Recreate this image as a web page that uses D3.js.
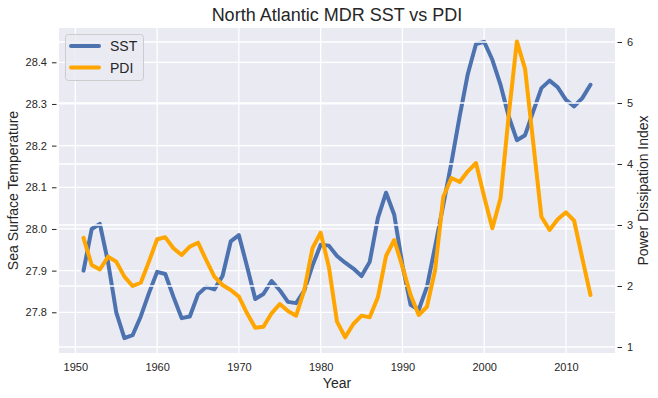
<!DOCTYPE html>
<html>
<head>
<meta charset="utf-8">
<script src="https://cdn.jsdelivr.net/npm/d3@7"></script>
<style>
  html, body { margin: 0; padding: 0; background: #ffffff; }
  svg { display: block; font-family: "Liberation Sans", Arial, sans-serif; }
</style>
</head>
<body>
<svg id="chart" width="658" height="398"></svg>
<script>
const years = d3.range(1951, 2014);
const sst = [
  27.900, 28.000, 28.012, 27.920, 27.800, 27.738, 27.745, 27.790, 27.846, 27.897,
  27.892, 27.837, 27.786, 27.790, 27.843, 27.861, 27.855, 27.887, 27.970, 27.985,
  27.910, 27.832, 27.844, 27.875, 27.853, 27.825, 27.822, 27.852, 27.912, 27.962,
  27.960, 27.935, 27.919, 27.905, 27.887, 27.921, 28.026, 28.087, 28.034, 27.914,
  27.818, 27.806, 27.861, 27.958, 28.058, 28.160, 28.270, 28.372, 28.444, 28.449,
  28.406, 28.346, 28.270, 28.213, 28.225, 28.282, 28.338, 28.356, 28.340, 28.310,
  28.294, 28.314, 28.346
];
const pdi = [
  2.790, 2.344, 2.270, 2.480, 2.400, 2.153, 2.000, 2.054, 2.400, 2.766,
  2.798, 2.618, 2.508, 2.645, 2.710, 2.426, 2.153, 2.016, 1.934, 1.825,
  1.552, 1.317, 1.333, 1.552, 1.705, 1.590, 1.514, 1.934, 2.618, 2.874,
  2.317, 1.415, 1.159, 1.377, 1.514, 1.486, 1.814, 2.492, 2.754, 2.317,
  1.852, 1.525, 1.660, 2.262, 3.464, 3.770, 3.705, 3.880, 4.016, 3.464,
  2.946, 3.437, 4.800, 6.010, 5.560, 4.350, 3.136, 2.918, 3.093, 3.208,
  3.070, 2.454, 1.852
];
const xTicks = [1950, 1960, 1970, 1980, 1990, 2000, 2010];
const sstTicks = [27.8, 27.9, 28.0, 28.1, 28.2, 28.3, 28.4];
const pdiTicks = [1, 2, 3, 4, 5, 6];

const title = "North Atlantic MDR SST vs PDI";
const xLabel = "Year";
const yLabelLeft = "Sea Surface Temperature";
const yLabelRight = "Power Dissipation Index";
const seriesNames = ["SST", "PDI"];
const colors = ["#4c72b0", "#ffa500"];

const L = 59, R = 615, T = 28, B = 353;
const textColor = "#262626";

const svg = d3.select("#chart");
const x = d3.scaleLinear().domain([1948, 2016]).range([L, R]);
const yL = d3.scaleLinear().domain([27.7023, 28.4823]).range([B, T]);
const yR = d3.scaleLinear().domain([0.9016, 6.2295]).range([B, T]);

// background
svg.append("rect").attr("x", L).attr("y", T).attr("width", R - L).attr("height", B - T).attr("fill", "#eaeaf2");

const clip = svg.append("defs").append("clipPath").attr("id", "plotclip");
clip.append("rect").attr("x", L).attr("y", T).attr("width", R - L).attr("height", B - T);

// grids for axis 1
const g1 = svg.append("g");
g1.selectAll(".vg").data(xTicks).enter().append("line")
  .attr("x1", d => x(d)).attr("x2", d => x(d)).attr("y1", T).attr("y2", B)
  .attr("stroke", "#ffffff").attr("stroke-width", 1.3);
g1.selectAll(".hg").data(sstTicks).enter().append("line")
  .attr("x1", L).attr("x2", R).attr("y1", d => yL(d)).attr("y2", d => yL(d))
  .attr("stroke", "#ffffff").attr("stroke-width", 1.3);

const plot = svg.append("g").attr("clip-path", "url(#plotclip)");
const lineL = d3.line().x((d, i) => x(years[i])).y(d => yL(d));
const lineR = d3.line().x((d, i) => x(years[i])).y(d => yR(d));

plot.append("path").datum(sst).attr("d", lineL).attr("fill", "none")
  .attr("stroke", colors[0]).attr("stroke-width", 4).attr("stroke-linejoin", "round").attr("stroke-linecap", "round");

// grids for axis 2
plot.selectAll(".hg2").data(pdiTicks).enter().append("line")
  .attr("x1", L).attr("x2", R).attr("y1", d => yR(d)).attr("y2", d => yR(d))
  .attr("stroke", "#ffffff").attr("stroke-width", 1.3);

plot.append("path").datum(pdi).attr("d", lineR).attr("fill", "none")
  .attr("stroke", colors[1]).attr("stroke-width", 4).attr("stroke-linejoin", "round").attr("stroke-linecap", "round");

// axes
const axL = d3.axisLeft(yL).tickValues(sstTicks).tickFormat(d3.format(".1f")).tickSize(4.5).tickPadding(5);
const axR = d3.axisRight(yR).tickValues(pdiTicks).tickFormat(d3.format("d")).tickSize(4.5).tickPadding(5);
const axB = d3.axisBottom(x).tickValues(xTicks).tickFormat(d3.format("d")).tickSize(0).tickPadding(10);

function styleAxis(g) {
  g.select(".domain").remove();
  g.selectAll("text").attr("fill", textColor).style("font-size", "11px").style("font-family", '"Liberation Sans", Arial, sans-serif');
  g.selectAll("line").attr("stroke", textColor).attr("stroke-width", 1);
}
svg.append("g").attr("transform", `translate(${L - 2.5},0)`).call(axL).call(styleAxis);
svg.append("g").attr("transform", `translate(${R + 2.5},0)`).call(axR).call(styleAxis);
svg.append("g").attr("transform", `translate(0,${B})`).call(axB).call(styleAxis);

// title & labels
svg.append("text").attr("x", (L + R) / 2).attr("y", 21).attr("text-anchor", "middle")
  .attr("fill", textColor).style("font-size", "18px").text(title);
svg.append("text").attr("x", (L + R) / 2).attr("y", 388).attr("text-anchor", "middle")
  .attr("fill", textColor).style("font-size", "14px").text(xLabel);
svg.append("text").attr("transform", `translate(18,${(T + B) / 2}) rotate(-90)`).attr("text-anchor", "middle")
  .attr("fill", textColor).style("font-size", "14px").text(yLabelLeft);
svg.append("text").attr("transform", `translate(648,${(T + B) / 2}) rotate(-90)`).attr("text-anchor", "middle")
  .attr("fill", textColor).style("font-size", "14px").text(yLabelRight);

// legend
const lg = svg.append("g");
lg.append("rect").attr("x", 65.5).attr("y", 34.5).attr("width", 78).attr("height", 46).attr("rx", 3)
  .attr("fill", "#eaeaf2").attr("fill-opacity", 0.8).attr("stroke", "#cccccc").attr("stroke-width", 1);
seriesNames.forEach((name, i) => {
  const yy = 46 + i * 21.5;
  lg.append("line").attr("x1", 71).attr("x2", 99).attr("y1", yy).attr("y2", yy)
    .attr("stroke", colors[i]).attr("stroke-width", 4).attr("stroke-linecap", "round");
  lg.append("text").attr("x", 110).attr("y", yy + 5).attr("fill", textColor)
    .style("font-size", "14px").text(name);
});
</script>
</body>
</html>
